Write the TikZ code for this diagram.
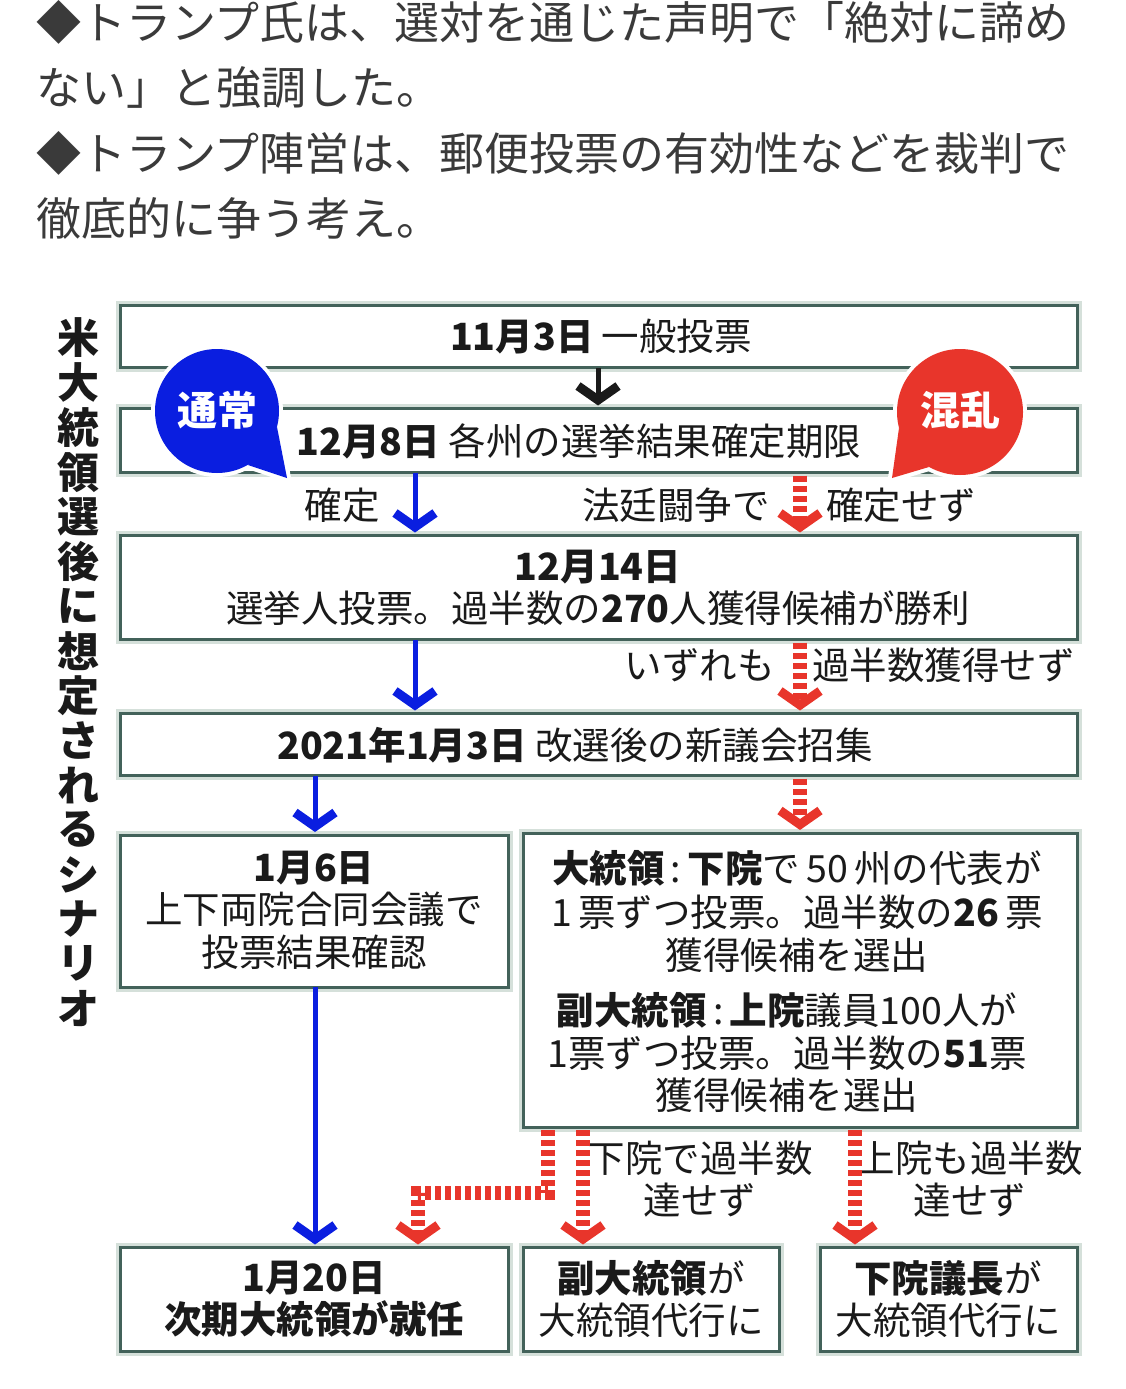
\documentclass[tikz,border=0pt]{standalone}
\usepackage{fontspec}
\setmainfont{Noto Sans CJK JP}
\usetikzlibrary{arrows.meta}
\definecolor{boxc}{HTML}{43625A}
\definecolor{glow}{HTML}{D5E0DA}
\definecolor{myblue}{HTML}{0A1EE0}
\definecolor{myred}{HTML}{E8352B}
\definecolor{ink}{HTML}{1A1A1A}
\definecolor{graytext}{HTML}{3A3A3A}
\begin{document}
\begin{tikzpicture}[x=1pt,y=-1pt,
  box/.style={draw=boxc, line width=3pt, fill=white, inner sep=0pt, outer sep=0pt,
    preaction={draw=glow, line width=9pt}},
  lbl/.style={font=\fontsize{37.5}{42.5}\selectfont, text=ink, inner sep=0pt, align=center},
  toptext/.style={font=\fontsize{45}{50}\selectfont, text=graytext, inner sep=0pt, anchor=west},
  vt/.style={font=\fontsize{42}{44}\selectfont\bfseries, text=ink, inner sep=0pt},
  tipx/.style={-{Straight Barb[length=14pt,width=40pt,line width'=9pt]}},
  barrow/.style={myblue, line width=5pt, tipx, shorten >=3pt},
  karrow/.style={ink, line width=5pt, tipx, shorten >=3pt},
  rarrow/.style={myred, line width=14pt, dash pattern=on 6pt off 4pt, tipx, shorten >=3pt},
  bubtext/.style={font=\fontsize{40}{44}\selectfont\bfseries, text=white, inner sep=0pt}
]
\useasboundingbox[fill=white] (0,0) rectangle (1125,1389);

% top text
\node[toptext] (p1) at (36,22) {◆トランプ氏は、選対を通じた声明で「絶対に諦め};
\node[toptext] (p2) at (36,88) {ない」と強調した。};
\node[toptext] (p3) at (36,153) {◆トランプ陣営は、郵便投票の有効性などを裁判で};
\node[toptext] (p4) at (36,218) {徹底的に争う考え。};

% vertical title
\foreach \c [count=\i] in {米,大,統,領,選,後,に,想,定,さ,れ,る,シ,ナ,リ,オ}
  \node[vt] (v\i) at (78,{338+(\i-1)*44.7}) {\c};

% boxes
\node[box, minimum width=957pt, minimum height=62pt] (b1) at (598.5,336.5) {};
\node[box, minimum width=957pt, minimum height=64pt] (b2) at (598.5,440.5) {};
\node[box, minimum width=957pt, minimum height=104pt] (b3) at (598.5,587.5) {};
\node[box, minimum width=957pt, minimum height=62pt] (b4) at (598.5,744.5) {};
\node[box, minimum width=388pt, minimum height=152pt] (b5) at (314,911) {};
\node[box, minimum width=554pt, minimum height=294pt] (b6) at (800,980) {};
\node[box, minimum width=388pt, minimum height=104pt] (b7) at (314,1299.5) {};
\node[box, minimum width=256pt, minimum height=104pt] (b8) at (651,1299.5) {};
\node[box, minimum width=257pt, minimum height=104pt] (b9) at (948.5,1299.5) {};

% bubbles
\draw[white, line width=8pt, line join=round] (217,411) circle[radius=62];
\draw[white, line width=8pt, line join=round] (277,427) -- (287,478) -- (248,465) -- cycle;
\draw[white, line width=8pt, line join=round] (960,412) circle[radius=63];
\draw[white, line width=8pt, line join=round] (899,428) -- (892,478) -- (929,467) -- cycle;
\fill[myblue] (217,411) circle[radius=62];
\fill[myblue] (277,427) -- (287,478) -- (248,465) -- cycle;
\fill[myred] (960,412) circle[radius=63];
\fill[myred] (899,428) -- (892,478) -- (929,467) -- cycle;
\node[bubtext] (n1) at (217,410) {通常};
\node[bubtext] (n2) at (960,410) {混乱};

% box texts
\node[lbl] (t1) at (601,337) {\textbf{11月3日} 一般投票};
\node[lbl] (t2) at (579,441) {\textbf{12月8日} 各州の選挙結果確定期限};
\node[lbl] (t3) at (598,588) {\textbf{12月14日}\\選挙人投票。過半数の\textbf{270}人獲得候補が勝利};
\node[lbl] (t4) at (575,745) {\textbf{2021年1月3日} 改選後の新議会招集};
\node[lbl] (t5) at (314,910) {\textbf{1月6日}\\上下両院合同会議で\\投票結果確認};
\node[lbl, font=\fontsize{37.5}{43.5}\selectfont] (t6a) at (797,912) {\textbf{大統領}\,:\,\textbf{下院}で\,50\,州の代表が\\1\,票ずつ投票。過半数の\textbf{26}\,票\\獲得候補を選出};
\node[lbl, font=\fontsize{37.5}{42.5}\selectfont] (t6b) at (787,1053) {\textbf{副大統領}\,:\,\textbf{上院}議員100人が\\1票ずつ投票。過半数の\textbf{51}票\\獲得候補を選出};
\node[lbl] (t7) at (314,1299) {\textbf{1月20日}\\\textbf{次期大統領が就任}};
\node[lbl] (t8) at (651,1299) {\textbf{副大統領}が\\大統領代行に};
\node[lbl] (t9) at (948,1299) {\textbf{下院議長}が\\大統領代行に};

% labels
\node[lbl, anchor=east] (l1) at (380,505) {確定};
\node[lbl, anchor=east] (l2) at (770,505) {法廷闘争で};
\node[lbl, anchor=west] (l3) at (826,505) {確定せず};
\node[lbl, anchor=east] (l4) at (775,665) {いずれも};
\node[lbl, anchor=west] (l5) at (812,665) {過半数獲得せず};
\node[lbl] (l6) at (700,1179) {下院で過半数\\達せず};
\node[lbl] (l7) at (970,1179) {上院も過半数\\達せず};

% connector x positions
\coordinate (xk) at (598,0);
\coordinate (xb1) at (415,0);
\coordinate (xr1) at (800,0);
\coordinate (xb2) at (315,0);
\coordinate (xr2) at (548,0);
\coordinate (xr3) at (418,0);
\coordinate (xr4) at (583,0);
\coordinate (xr5) at (855,0);
\coordinate (ybend) at (0,1193);

% connectors
\draw[karrow] (xk |- b1.south) -- (xk |- b2.north);
\draw[barrow] (xb1 |- b2.south) -- (xb1 |- b3.north);
\draw[rarrow] ([yshift=-3pt]xr1 |- b2.south) -- (xr1 |- b3.north);
\draw[barrow] (xb1 |- b3.south) -- (xb1 |- b4.north);
\draw[rarrow] ([yshift=-3pt]xr1 |- b3.south) -- (xr1 |- b4.north);
\draw[barrow] (xb2 |- b4.south) -- (xb2 |- b5.north);
\draw[rarrow] ([yshift=-3pt]xr1 |- b4.south) -- (xr1 |- b6.north);
\draw[barrow] (xb2 |- b5.south) -- (xb2 |- b7.north);
\draw[rarrow] ([yshift=-3pt]xr2 |- b6.south) -- (xr2 |- ybend) -- (xr3 |- ybend) -- (xr3 |- b7.north);
\draw[rarrow] ([yshift=-3pt]xr4 |- b6.south) -- (xr4 |- b8.north);
\draw[rarrow] ([yshift=-3pt]xr5 |- b6.south) -- (xr5 |- b9.north);
\end{tikzpicture}
\end{document}
